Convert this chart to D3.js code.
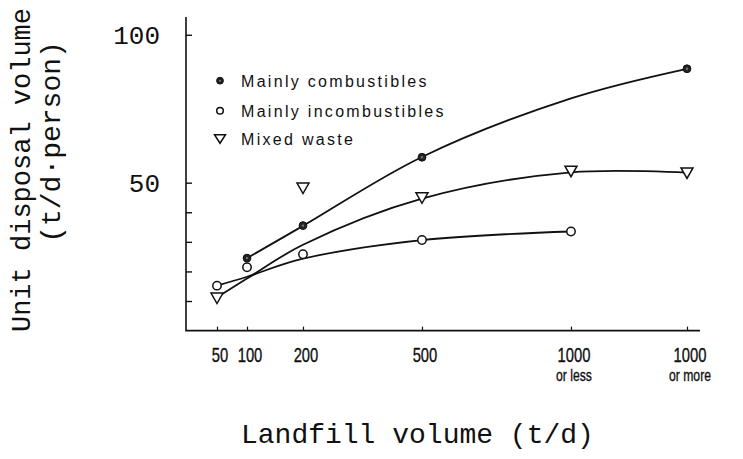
<!DOCTYPE html>
<html>
<head>
<meta charset="utf-8">
<script src="https://cdn.jsdelivr.net/npm/d3@7"></script>
<style>
  body { margin: 0; background: #fff; }
  svg { display: block; }
</style>
</head>
<body>
<svg id="chart"></svg>
<script>
// categories on the landfill-volume axis (t/d)
var categories = ["50", "100", "200", "500", "1000-", "1000+"];
var tickLabels = ["50", "100", "200", "500", "1000", "1000"];
var tickSubLabels = ["", "", "", "", "or less", "or more"];

// measured points (null = no point)
var combustibleValues   = [null, 24.5, 35.5, 58.6, null, 88.5];
var incombustibleValues = [15.2, 21.4, 25.8, 30.6, 33.5, null];
var mixedValues         = [10.9, null, 48.1, 44.8, 53.8, 53.2];

// fitted curves drawn by hand in the original
var combustibleCurve   = [null, 24.5, 35.4, 58.7, 78.5, 88.5];
var incombustibleCurve = [15.2, 18.2, 24.3, 30.6, 33.5, null];
var mixedCurve         = [11.2, 17.6, 29.0, 44.6, 53.5, 53.4];

var yTicks = [10, 20, 30, 40, 50, 100];
var yLabelled = [50, 100];

var legendItems = ["Mainly combustibles", "Mainly incombustibles", "Mixed waste"];

var width = 743, height = 459;
var plotLeft = 186, plotRight = 700, plotTop = 17, plotBottom = 330.6;
var ink = "#111";

var svg = d3.select("#chart").attr("width", width).attr("height", height);

// the original x axis is hand spaced, so use a piecewise scale over the categories
var xStops = [0.0603, 0.1187, 0.2276, 0.4591, 0.749, 0.9747];
var x = d3.scaleLinear()
    .domain(d3.range(categories.length))
    .range(xStops.map(function (f) { return plotLeft + f * (plotRight - plotLeft); }));

var y = d3.scaleLinear()
    .domain([0, 106])
    .range([plotBottom, plotTop]);

// axis lines
svg.append("path")
    .attr("d", "M" + plotLeft + "," + plotTop + "V" + plotBottom + "H" + plotRight)
    .attr("fill", "none")
    .attr("stroke", ink)
    .attr("stroke-width", 1.6);

// y axis ticks (inward) and labels
var yAxis = d3.axisLeft(y)
    .tickValues(yTicks)
    .tickSizeInner(-6)
    .tickSizeOuter(0)
    .tickPadding(26)
    .tickFormat(function (d) { return yLabelled.indexOf(d) >= 0 ? d : ""; });

var gy = svg.append("g")
    .attr("transform", "translate(" + plotLeft + ",0)")
    .call(yAxis);
gy.select(".domain").remove();
gy.selectAll(".tick line").attr("stroke", ink).attr("stroke-width", 1.4);
gy.selectAll(".tick text")
    .attr("fill", ink)
    .style("font-family", "'Liberation Mono', 'Courier New', monospace")
    .style("font-size", "26px");

// x axis ticks
var xAxis = d3.axisBottom(x)
    .tickValues(d3.range(categories.length))
    .tickSizeInner(-4)
    .tickSizeOuter(0)
    .tickFormat("");
var gx = svg.append("g")
    .attr("transform", "translate(0," + plotBottom + ")")
    .call(xAxis);
gx.select(".domain").remove();
gx.selectAll(".tick line").attr("stroke", ink).attr("stroke-width", 1.2);

// x tick labels: condensed sans, two lines for the last two
var xl = svg.append("g").attr("class", "xlabels")
    .attr("fill", ink)
    .attr("stroke", ink)
    .attr("stroke-width", 0.35)
    .style("font-family", "'Liberation Sans', Arial, sans-serif");
categories.forEach(function (c, i) {
    var cx = x(i) + 3;
    xl.append("text")
        .attr("transform", "translate(" + cx + ",362) scale(0.74,1)")
        .attr("text-anchor", "middle")
        .style("font-size", "20px")
        .text(tickLabels[i]);
    if (tickSubLabels[i]) {
        xl.append("text")
            .attr("transform", "translate(" + cx + ",381) scale(0.74,1)")
            .attr("text-anchor", "middle")
            .style("font-size", "16.5px")
            .text(tickSubLabels[i]);
    }
});

// curves
function curvePoints(vals) {
    var pts = [];
    vals.forEach(function (v, i) { if (v !== null) pts.push([x(i), y(v)]); });
    return pts;
}
var line = d3.line().curve(d3.curveCatmullRom.alpha(0.5));

[combustibleCurve, incombustibleCurve, mixedCurve].forEach(function (vals) {
    svg.append("path")
        .attr("d", line(curvePoints(vals)))
        .attr("fill", "none")
        .attr("stroke", ink)
        .attr("stroke-width", 1.8);
});

// markers
function drawCombustible(g, cx, cy, r) {
    g.append("circle").attr("cx", cx).attr("cy", cy).attr("r", r)
        .attr("fill", "#222").attr("stroke", ink).attr("stroke-width", 1);
    g.append("circle").attr("cx", cx).attr("cy", cy).attr("r", r * 0.3)
        .attr("fill", "#777");
}
function drawIncombustible(g, cx, cy, r) {
    g.append("circle").attr("cx", cx).attr("cy", cy).attr("r", r)
        .attr("fill", "#fff").attr("stroke", ink).attr("stroke-width", 1.5);
}
function drawMixed(g, cx, cy, w, h) {
    g.append("path")
        .attr("d", "M" + (cx - w / 2) + "," + (cy - h / 2) + "H" + (cx + w / 2) + "L" + cx + "," + (cy + h / 2) + "Z")
        .attr("fill", "#fff").attr("stroke", ink).attr("stroke-width", 1.5)
        .attr("stroke-linejoin", "miter");
}

var marks = svg.append("g");
combustibleValues.forEach(function (v, i) {
    if (v !== null) drawCombustible(marks, x(i), y(v), 3.9);
});
incombustibleValues.forEach(function (v, i) {
    if (v !== null) drawIncombustible(marks, x(i), y(v), 4.2);
});
mixedValues.forEach(function (v, i) {
    if (v !== null) drawMixed(marks, x(i), y(v), 12, 10.5);
});

// legend
var lg = svg.append("g").attr("transform", "translate(220,0)");
var rowY = [80.7, 110.7, 139];
drawCombustible(lg, 0, rowY[0], 3.4);
drawIncombustible(lg, 0, rowY[1], 3.3);
drawMixed(lg, 0, rowY[2], 11, 8.5);
legendItems.forEach(function (t, i) {
    lg.append("text")
        .attr("x", 21)
        .attr("y", rowY[i] + 6)
        .attr("fill", ink)
        .style("font-family", "'Liberation Sans', Arial, sans-serif")
        .style("font-size", "16px")
        .style("letter-spacing", "2.3px")
        .text(t);
});

// axis titles (typewriter face)
var mono = "'Liberation Mono', 'Courier New', monospace";
svg.append("text")
    .attr("transform", "translate(30,170) rotate(-90)")
    .attr("text-anchor", "middle")
    .attr("fill", ink)
    .style("font-family", mono)
    .style("font-size", "27px")
    .text("Unit disposal volume");
svg.append("text")
    .attr("transform", "translate(60,142) rotate(-90)")
    .attr("text-anchor", "middle")
    .attr("fill", ink)
    .style("font-family", mono)
    .style("font-size", "28px")
    .text("(t/d\u00b7person)");
svg.append("text")
    .attr("x", 241)
    .attr("y", 443)
    .attr("fill", ink)
    .style("font-family", mono)
    .style("font-size", "28px")
    .text("Landfill volume (t/d)");
</script>
</body>
</html>
